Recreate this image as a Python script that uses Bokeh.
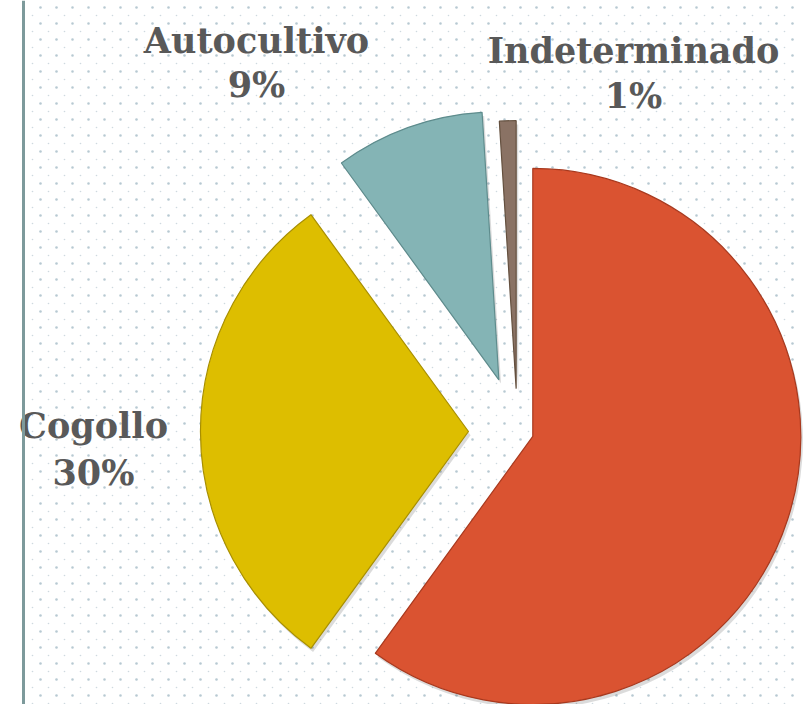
import numpy as np
from bokeh.plotting import figure
from bokeh.models import ColumnDataSource, Span, Range1d
from bokeh.embed import file_html
from bokeh.resources import INLINE
from bokeh.core.properties import value

# ---- data ----
categories = ["Otro", "Cogollo", "Autocultivo", "Indeterminado"]
values = [60, 30, 9, 1]
pct_labels = ["60%", "30%", "9%", "1%"]
show_label = [False, True, True, True]

# ---- style / layout ----
colors = ["#DA5331", "#DDBE00", "#84B4B5", "#8A7264"]
edge_colors = ["#A8391E", "#A88F00", "#5E8C8D", "#64503F"]
explode = [0.06, 0.183, 0.205, 0.16]
# label anchor positions in page pixels (x center, name baseline, pct baseline)
label_px = [(0, 0, 0), (93, 425, 472), (256, 40, 84), (633, 50, 95)]

W, H = 804, 704
R = 268.0
CX, CY = 517, 431   # pie center in pixels (from top-left)
DOT_STEP = 16


def px_to_data(X, Y):
    return (X - CX) / R, (CY - Y) / R


p = figure(width=W, height=H, output_backend="svg", toolbar_location=None,
           x_range=Range1d(-CX / R, (W - CX) / R),
           y_range=Range1d(-(H - CY) / R, CY / R),
           min_border=0)
p.axis.visible = False
p.grid.visible = False
p.outline_line_color = None
p.background_fill_color = "white"
p.border_fill_color = "white"

# dotted background texture (decoration)
gx, gy = np.meshgrid(np.arange(40, W, DOT_STEP), np.arange(7, H, DOT_STEP))
bx, by = px_to_data(gx.ravel(), gy.ravel())
p.scatter(bx, by, size=2.6, fill_color="#AFC3CD", line_color=None, fill_alpha=0.9)
hx, hy = px_to_data(gx.ravel() - 8, gy.ravel() + 8)
p.scatter(hx, hy, size=1.6, fill_color="#C9D5DB", line_color=None, fill_alpha=0.9)

# left vertical rule
p.add_layout(Span(location=px_to_data(23, 0)[0], dimension="height",
                  line_color="#7D9A9B", line_width=3))

vals = np.array(values, dtype=float)
cum = np.concatenate([[0], np.cumsum(vals) / vals.sum()])
start_cw = cum[:-1] * 2 * np.pi
end_cw = cum[1:] * 2 * np.pi
start_ang = np.pi / 2 - end_cw
end_ang = np.pi / 2 - start_cw
mid = np.pi / 2 - (start_cw + end_cw) / 2
ex = np.array(explode)
cx = ex * np.cos(mid)
cy = ex * np.sin(mid)

src = ColumnDataSource(dict(x=cx, y=cy, sx=cx + 0.008, sy=cy - 0.014,
                            start=start_ang, end=end_ang,
                            color=colors, edge=edge_colors))

# shadow
p.wedge(x="sx", y="sy", radius=1.0, start_angle="start", end_angle="end",
        direction="anticlock", fill_color="black", fill_alpha=0.14,
        line_color=None, source=src)
# slices
p.wedge(x="x", y="y", radius=1.0, start_angle="start", end_angle="end",
        direction="anticlock", fill_color="color", line_color="edge",
        line_width=1.2, source=src)

# labels
lx, ly1, ly2, names, pcts = [], [], [], [], []
for i, show in enumerate(show_label):
    if not show:
        continue
    X, Y1, Y2 = label_px[i]
    a, b = px_to_data(X, Y1)
    _, c = px_to_data(X, Y2)
    lx.append(a); ly1.append(b); ly2.append(c)
    names.append(categories[i]); pcts.append(pct_labels[i])

lsrc = ColumnDataSource(dict(x=lx, y1=ly1, y2=ly2, name=names, pct=pcts))
for ycol, tcol in (("y1", "name"), ("y2", "pct")):
    p.text(x="x", y=ycol, text=tcol, source=lsrc, text_align="center",
           text_baseline="alphabetic", text_font=value("DejaVu Serif"),
           text_font_style="bold", text_font_size="35px", text_color="#595959")

open("out.html", "w").write(file_html(p, INLINE))
